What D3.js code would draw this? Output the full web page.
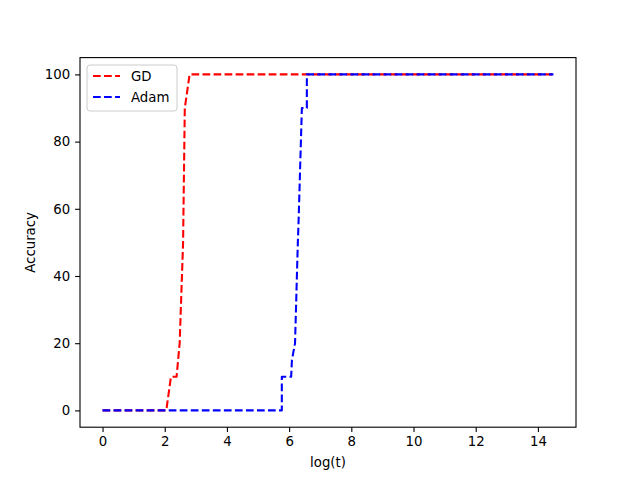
<!DOCTYPE html>
<html>
<head>
<meta charset="utf-8">
<script src="https://cdn.jsdelivr.net/npm/d3@7"></script>
<style>
  body { margin: 0; background: #fff; }
  svg { font-family: "DejaVu Sans", sans-serif; }
</style>
</head>
<body>
<svg id="chart" width="640" height="480"></svg>
<script>
// Series: x = log(t), y = accuracy (%)
const gdX = [0, 2.05, 2.2, 2.38, 2.48, 2.59, 2.645, 2.8, 14.5];
const gdY = [0, 0, 10, 10, 20, 50, 90, 100, 100];
const adamX = [0, 5.765, 5.765, 6.065, 6.09, 6.19, 6.28, 6.30, 6.41, 6.57, 6.57, 14.5];
const adamY = [0, 0, 10, 10, 15, 20, 50, 55, 90, 90, 100, 100];
const xTicks = [0, 2, 4, 6, 8, 10, 12, 14];
const yTicks = [0, 20, 40, 60, 80, 100];
const seriesNames = ['GD', 'Adam'];
const seriesColors = ['#ff0000', '#0000ff'];

const margin = { left: 80, right: 64, top: 57.6, bottom: 52.8 };
const width = 640, height = 480;

const svg = d3.select('#chart');

// matplotlib style 5% padding on the data range
const xScale = d3.scaleLinear()
  .domain([-0.725, 15.225])
  .range([margin.left, width - margin.right]);
const yScale = d3.scaleLinear()
  .domain([-5, 105])
  .range([height - margin.bottom, margin.top]);

// Axes
const xAxis = d3.axisBottom(xScale).tickValues(xTicks).tickSize(4.9).tickPadding(4.9);
const yAxis = d3.axisLeft(yScale).tickValues(yTicks).tickSize(4.9).tickPadding(4.9);

const gx = svg.append('g')
  .attr('transform', `translate(0, ${height - margin.bottom})`)
  .call(xAxis);
const gy = svg.append('g')
  .attr('transform', `translate(${margin.left}, 0)`)
  .call(yAxis);

[gx, gy].forEach(g => {
  g.select('.domain').remove();
  g.selectAll('.tick line').attr('stroke', '#000').attr('stroke-width', 1.1);
  g.selectAll('.tick text')
    .attr('fill', '#000')
    .style('font-family', '"DejaVu Sans", sans-serif')
    .style('font-size', '13.3px');
});

// Lines
const lineGen = d3.line()
  .x(d => xScale(d[0]))
  .y(d => yScale(d[1]));

const series = [
  { name: seriesNames[0], color: seriesColors[0], pts: d3.zip(gdX, gdY) },
  { name: seriesNames[1], color: seriesColors[1], pts: d3.zip(adamX, adamY) }
];

const plot = svg.append('g');
series.forEach(s => {
  plot.append('path')
    .datum(s.pts)
    .attr('d', lineGen)
    .attr('fill', 'none')
    .attr('stroke', s.color)
    .attr('stroke-width', 2.08)
    .attr('stroke-dasharray', '7.7 3.33')
    .attr('stroke-linejoin', 'round');
});

// Frame
svg.append('rect')
  .attr('x', margin.left)
  .attr('y', margin.top)
  .attr('width', width - margin.left - margin.right)
  .attr('height', height - margin.top - margin.bottom)
  .attr('fill', 'none')
  .attr('stroke', '#000')
  .attr('stroke-width', 1.1);

// Axis labels
svg.append('text')
  .attr('x', (margin.left + width - margin.right) / 2)
  .attr('y', 467)
  .attr('text-anchor', 'middle')
  .style('font-size', '13.3px')
  .text('log(t)');

svg.append('text')
  .attr('transform', `translate(35, ${(margin.top + height - margin.bottom) / 2}) rotate(-90)`)
  .attr('text-anchor', 'middle')
  .style('font-size', '13.3px')
  .text('Accuracy');

// Legend
const legend = svg.append('g').attr('transform', 'translate(87, 65)');
legend.append('rect')
  .attr('width', 90)
  .attr('height', 46)
  .attr('rx', 3)
  .attr('fill', '#fff')
  .attr('fill-opacity', 0.8)
  .attr('stroke', '#cccccc')
  .attr('stroke-width', 1);

series.forEach((s, i) => {
  const y = 11 + i * 21;
  legend.append('line')
    .attr('x1', 6).attr('x2', 33)
    .attr('y1', y).attr('y2', y)
    .attr('stroke', s.color)
    .attr('stroke-width', 2.08)
    .attr('stroke-dasharray', '7.7 3.33');
  legend.append('text')
    .attr('x', 44)
    .attr('y', y + 4.8)
    .style('font-size', '13.3px')
    .text(s.name);
});
</script>
</body>
</html>
